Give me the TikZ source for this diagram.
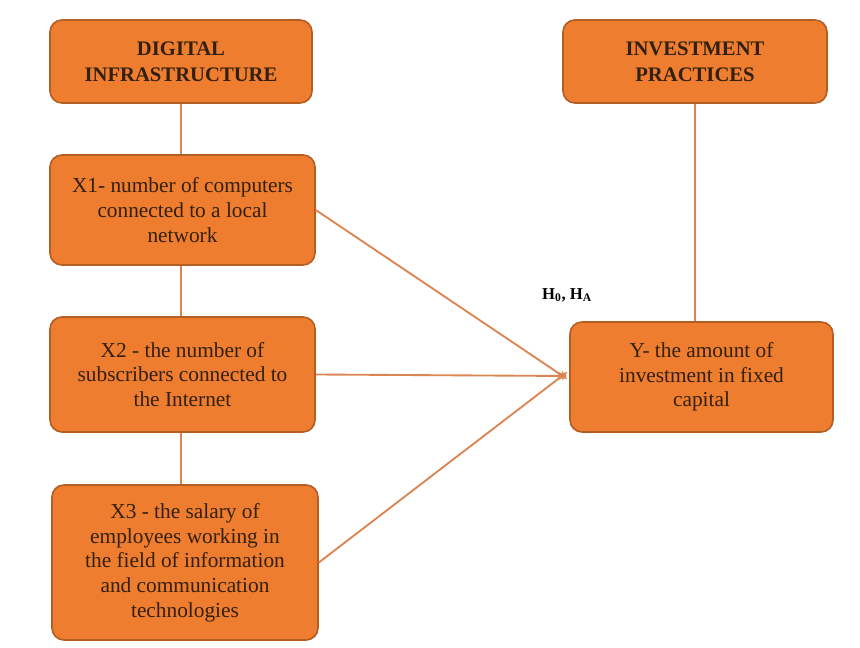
\documentclass[tikz,border=0pt]{standalone}
\usepackage{fontspec}
\setmainfont{Liberation Serif}
\usetikzlibrary{arrows.meta}
\definecolor{boxfill}{HTML}{EE7D2F}
\definecolor{boxedge}{HTML}{B35E22}
\definecolor{linec}{HTML}{DB8553}
\definecolor{txt}{HTML}{33200F}
\begin{document}
\begin{tikzpicture}[x=0.75pt,y=-0.75pt,
  box/.style={draw=boxedge, line width=1.2pt, fill=boxfill, rounded corners=9pt,
    rectangle, align=center, text=txt, inner sep=3pt,
    font=\fontsize{16}{18.5}\selectfont},
  head/.style={box, font=\bfseries\fontsize{15.5}{19.5}\selectfont},
  link/.style={draw=linec, line width=1.4pt},
  arr/.style={link, -{Stealth[length=6.75pt,width=6pt]}}]
\useasboundingbox (0,0) rectangle (860,648);
\node[head, minimum width=196.5pt, minimum height=62.25pt] (di) at (181,61.5) {DIGITAL\\INFRASTRUCTURE};
\node[head, minimum width=198pt, minimum height=62.25pt] (ip) at (695,61.5) {INVESTMENT\\PRACTICES};
\node[box, minimum width=198.75pt, minimum height=82.5pt] (x1) at (182.5,210) {X1- number of computers\\connected to a local\\network};
\node[box, minimum width=198.75pt, minimum height=86.25pt] (x2) at (182.5,374.5) {X2 - the number of\\subscribers connected to\\the Internet};
\node[box, minimum width=199.5pt, minimum height=116.25pt] (x3) at (185,562.5) {X3 - the salary of\\employees working in\\the field of information\\and communication\\technologies};
\node[box, minimum width=197.25pt, minimum height=82.5pt] (y) at (701.5,377) {Y- the amount of\\investment in fixed\\capital};
\node[font=\bfseries\fontsize{12.5}{14}\selectfont, text=black] (h) at (567,295) {H\textsubscript{0}, H\textsubscript{A}};
\coordinate (vx) at (181,0);
\draw[link] (di.south) -- (di.south |- x1.north);
\draw[link] (vx |- x1.south) -- (vx |- x2.north);
\draw[link] (vx |- x2.south) -- (vx |- x3.north);
\draw[link] (ip.south) -- (y.north -| ip.south);
\draw[arr] (x1.east) -- ([xshift=-1.5pt,yshift=-1.5pt]y.west);
\draw[arr] (x2.east) -- ([xshift=-1.5pt,yshift=0.75pt]y.west);
\draw[arr] (x3.east) -- ([xshift=-1.5pt,yshift=3.75pt]y.west);
\end{tikzpicture}
\end{document}
